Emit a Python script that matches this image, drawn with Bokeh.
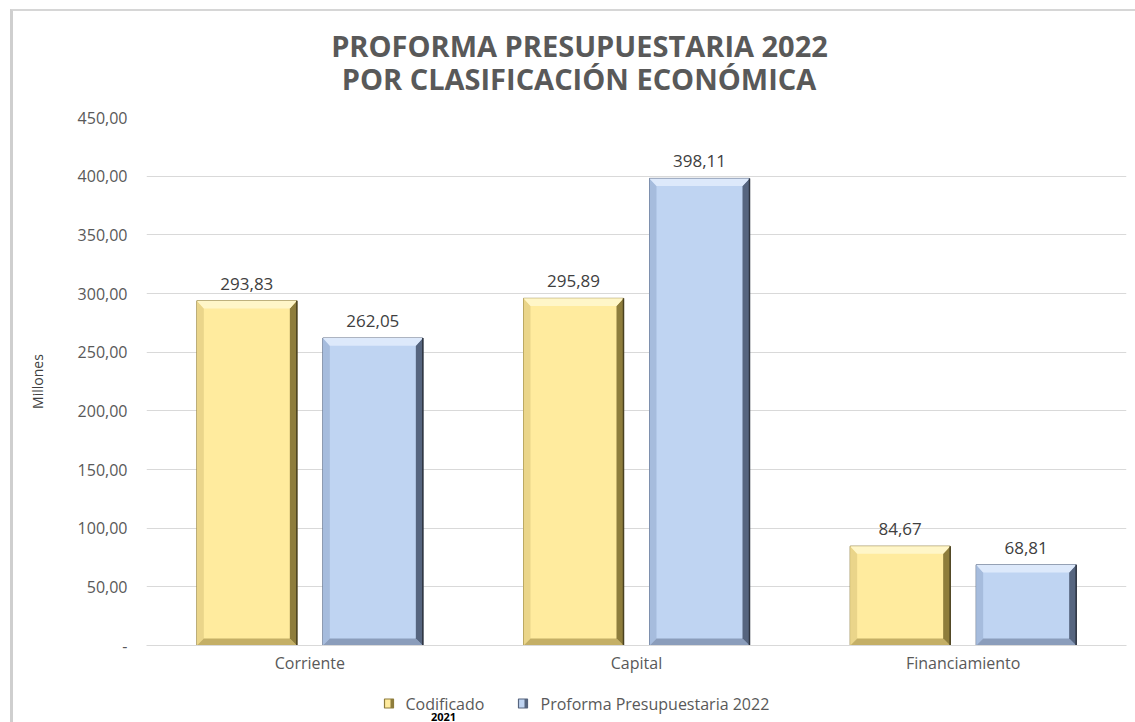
from bokeh.plotting import figure
from bokeh.layouts import column
from bokeh.models import FixedTicker, Range1d, ColumnDataSource, InlineStyleSheet
from bokeh.core.properties import value
from bokeh.embed import file_html
from bokeh.resources import INLINE

# ---- data ----
categories = ["Corriente", "Capital", "Financiamiento"]
codificado_2021 = [293.83, 295.89, 84.67]
proforma_2022 = [262.05, 398.11, 68.81]
series_names = ["Codificado", "Proforma Presupuestaria 2022"]
legend_note = "2021"
title_lines = ["PROFORMA PRESUPUESTARIA 2022", "POR CLASIFICACIÓN ECONÓMICA"]
y_label = "Millones"
y_ticks = [0, 50, 100, 150, 200, 250, 300, 350, 400, 450]

FONT = "Open Sans"
GREY = "#595959"

W = 1135
TH = 100                  # title strip height
LY0 = 680                 # legend strip starts here (page px)
MH = LY0 - TH             # main chart height
LH = 722 - LY0            # legend strip height
FL, FR, FT, FB = 146, 1126, 117, 645   # frame edges in page px

border_css = InlineStyleSheet(css="""
:host { position: relative; }
:host::after { content: ""; position: absolute; left: 10px; top: 9px; width: 1140px; height: 720px;
  border-left: 3px solid #cfcfcf; border-top: 2px solid #d6d6d6;
  pointer-events: none; box-sizing: border-box; }
""")


def strip(height, y_top, y_bottom):
    f = figure(width=W, height=height, output_backend="svg", toolbar_location=None,
               x_range=Range1d(FL, FR), y_range=Range1d(y_bottom, y_top),
               min_border=0, min_border_left=0, min_border_right=0,
               min_border_top=0, min_border_bottom=0)
    f.axis.visible = False
    f.grid.visible = False
    f.outline_line_color = None
    f.background_fill_color = "white"
    f.border_fill_color = "white"
    return f


# ---- title strip (page pixel coordinates, y downward) ----
ts = strip(TH, 0, TH)
ts.text(x=[579, 578.5], y=[45, 78], text=title_lines, text_align="center", text_baseline="middle",
        text_font=value(FONT), text_font_size="29px", text_font_style="bold", text_color=GREY)

# ---- main chart ----
p = figure(width=W, height=MH, output_backend="svg", toolbar_location=None,
           x_range=Range1d(0, 3), y_range=Range1d(0, 450),
           min_border_left=FL, min_border_right=W - FR, min_border_top=FT - TH,
           min_border_bottom=LY0 - FB)
p.title.visible = False
p.outline_line_color = None
p.background_fill_color = "white"
p.border_fill_color = "white"

p.yaxis.ticker = FixedTicker(ticks=y_ticks)
p.yaxis.major_label_overrides = {t: ("-" if t == 0 else f"{t:.2f}".replace(".", ",")) for t in y_ticks}
p.yaxis.axis_line_color = None
p.yaxis.major_tick_line_color = None
p.yaxis.major_tick_out = 0
p.yaxis.minor_tick_line_color = None
p.yaxis.minor_tick_out = 0
p.yaxis.major_label_standoff = 19
p.yaxis.major_label_text_font = FONT
p.yaxis.major_label_text_font_size = "16px"
p.yaxis.major_label_text_color = GREY
p.yaxis.axis_label = y_label
p.yaxis.axis_label_standoff = 28
p.yaxis.axis_label_text_font = FONT
p.yaxis.axis_label_text_font_size = "14px"
p.yaxis.axis_label_text_font_style = "normal"
p.yaxis.axis_label_text_color = "#404040"

p.xaxis.ticker = FixedTicker(ticks=[i + 0.5 for i in range(len(categories))])
p.xaxis.major_label_overrides = {i + 0.5: c for i, c in enumerate(categories)}
p.xaxis.axis_line_color = "#d9d9d9"
p.xaxis.major_tick_line_color = None
p.xaxis.major_tick_out = 0
p.xaxis.minor_tick_line_color = None
p.xaxis.minor_tick_out = 0
p.xaxis.major_label_standoff = 6
p.xaxis.major_label_text_font = FONT
p.xaxis.major_label_text_font_size = "16px"
p.xaxis.major_label_text_color = GREY

p.xgrid.grid_line_color = None
p.ygrid.grid_line_color = "#d9d9d9"
p.ygrid.grid_line_width = 1

# ---- bevelled bars ----
PX_X = (FR - FL) / 3.0
PX_Y = (FB - FT) / 450.0
bar_w = 100 / PX_X
offset = 63 / PX_X
bx = 7 / PX_X
by = 7 / PX_Y

styles = [
    dict(center="#FFEB9E", top="#FFF6C8", left="#EAD58A", right="#8E7D3C", bottom="#C4AF66", edge="#4A4120"),
    dict(center="#BFD4F2", top="#DDE9FB", left="#A6BCDD", right="#56657F", bottom="#8B9DBB", edge="#2E3440"),
]

for si, vals in enumerate([codificado_2021, proforma_2022]):
    st = styles[si]
    sgn = -1 if si == 0 else 1
    x0s, x1s, tops = [], [], []
    for ci, v in enumerate(vals):
        cx = ci + 0.5 + sgn * offset
        x0s.append(cx - bar_w / 2)
        x1s.append(cx + bar_w / 2)
        tops.append(v)
    tx, ty, lx, ly, rx, ry, bxs, bys = [], [], [], [], [], [], [], []
    for x0, x1, y1 in zip(x0s, x1s, tops):
        y0 = 0
        tx.append([x0, x1, x1 - bx, x0 + bx]); ty.append([y1, y1, y1 - by * 1.1, y1 - by * 1.1])
        lx.append([x0, x0, x0 + bx, x0 + bx]); ly.append([y0, y1, y1 - by * 1.1, y0 + by])
        rx.append([x1, x1, x1 - bx, x1 - bx]); ry.append([y0, y1, y1 - by * 1.1, y0 + by])
        bxs.append([x0, x1, x1 - bx, x0 + bx]); bys.append([y0, y0, y0 + by, y0 + by])
    p.quad(left=x0s, right=x1s, bottom=[0] * len(tops), top=tops,
           fill_color=st["center"], line_color=st["right"], line_width=1)
    p.patches(xs=lx, ys=ly, fill_color=st["left"], line_color=None)
    p.patches(xs=bxs, ys=bys, fill_color=st["bottom"], line_color=None)
    p.patches(xs=rx, ys=ry, fill_color=st["right"], line_color=None)
    p.patches(xs=tx, ys=ty, fill_color=st["top"], line_color=None)
    p.segment(x0=x1s, y0=[0] * len(tops), x1=x1s, y1=tops, line_color=st["edge"], line_width=1.5)
    src = ColumnDataSource(dict(x=[(a + b) / 2 for a, b in zip(x0s, x1s)], y=tops,
                                t=[f"{v:.2f}".replace(".", ",") for v in vals]))
    p.text(x="x", y="y", text="t", source=src, text_align="center", text_baseline="middle",
           y_offset=-17, text_font=value(FONT), text_font_size="17px", text_color="#404040")

# ---- legend strip (page pixel coordinates, y downward) ----
lg = strip(LH, LY0, 722)
icon_x = [388.5, 522.5]
text_x = [405, 540]
leg_y = 703
for i in range(2):
    st = styles[i]
    lg.rect(x=[icon_x[i]], y=[leg_y], width=9, height=9, fill_color=st["center"],
            line_color=st["right"], line_width=1.2)
    lg.rect(x=[icon_x[i] + 3], y=[leg_y], width=3, height=9, fill_color=st["right"], line_color=None)
    lg.text(x=[text_x[i]], y=[leg_y], text=[series_names[i]], text_align="left", text_baseline="middle",
            text_font=value(FONT), text_font_size="16px", text_color=GREY)
lg.text(x=[443], y=[716], text=[legend_note], text_align="center", text_baseline="middle",
        text_font=value(FONT), text_font_size="11px", text_font_style="bold", text_color="black")

layout = column(ts, p, lg, spacing=0, stylesheets=[border_css])
open("out.html", "w").write(file_html(layout, INLINE))
